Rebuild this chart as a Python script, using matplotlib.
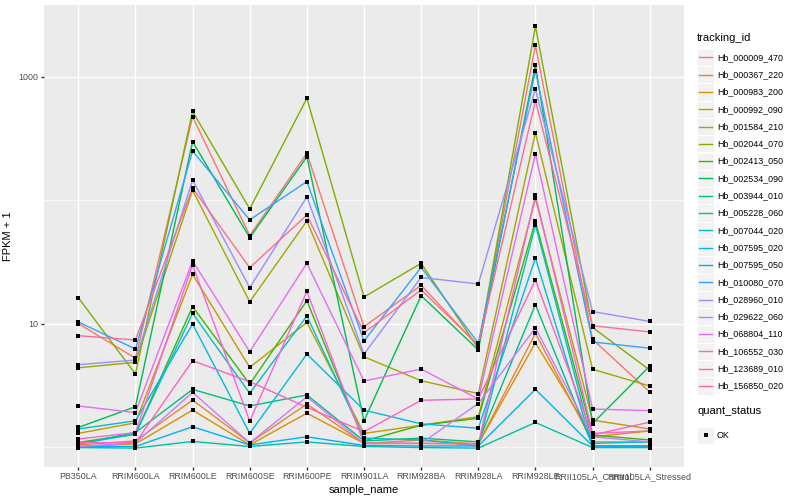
import matplotlib
matplotlib.use("Agg")
import matplotlib.pyplot as plt
from matplotlib.patches import Rectangle
from matplotlib.lines import Line2D
from matplotlib.ticker import FixedLocator, NullFormatter

# x categories
samples = ["PB350LA", "RRIM600LA", "RRIM600LE", "RRIM600SE", "RRIM600PE",
           "RRIM901LA", "RRIM928BA", "RRIM928LA", "RRIM928LE",
           "RRII105LA_Control", "RRII105LA_Stressed"]

tracking_ids = ["Hb_000009_470", "Hb_000367_220", "Hb_000983_200", "Hb_000992_090",
                "Hb_001584_210", "Hb_002044_070", "Hb_002413_050", "Hb_002534_090",
                "Hb_003944_010", "Hb_005228_060", "Hb_007044_020", "Hb_007595_020",
                "Hb_007595_050", "Hb_010080_070", "Hb_028960_010", "Hb_029622_060",
                "Hb_068804_110", "Hb_106552_030", "Hb_123689_010", "Hb_156850_020"]

# ggplot default hue palette for 20 levels
hue_colors = ["#F8766D", "#EA8331", "#D89000", "#C09B00", "#A3A500", "#7CAE00",
              "#39B600", "#00BB4E", "#00BF7D", "#00C1A3", "#00BFC4", "#00BAE0",
              "#00B0F6", "#35A2FF", "#9590FF", "#C77CFF", "#E76BF3", "#FA62DB",
              "#FF62BC", "#FF6C91"]

# FPKM + 1, one row per tracking_id, one value per sample
fpkm_plus1 = [
    [10.0, 5.23, 472, 51.5, 239, 9.42, 20.4, 6.52, 1790, 7.45, 2.79],
    [1.04, 1.12, 2.40, 1.08, 2.23, 1.07, 1.14, 1.06, 8.33, 1.10, 1.10],
    [1.01, 1.06, 1.99, 1.04, 1.88, 1.07, 1.07, 1.06, 6.99, 1.21, 1.35],
    [1.29, 1.57, 25.0, 4.42, 10.2, 1.29, 1.50, 1.76, 103, 1.65, 1.40],
    [4.38, 4.85, 120, 15.0, 67.6, 5.38, 3.44, 2.71, 351, 4.26, 3.12],
    [16.2, 3.90, 521, 84.8, 666, 16.4, 30.7, 6.30, 2550, 9.30, 4.20],
    [1.09, 1.27, 13.7, 3.23, 15.3, 1.12, 1.50, 1.71, 67.2, 1.25, 1.14],
    [1.44, 2.12, 297, 49.5, 224, 1.63, 16.8, 6.11, 1240, 1.55, 4.52],
    [1.06, 1.31, 2.93, 2.15, 2.64, 1.12, 1.18, 1.10, 14.2, 1.02, 1.02],
    [0.99, 0.98, 1.11, 1.01, 1.10, 1.01, 0.99, 0.98, 1.58, 0.99, 0.99],
    [1.06, 1.27, 12.1, 2.72, 11.5, 1.18, 1.14, 1.02, 62.8, 1.07, 1.10],
    [1.40, 1.63, 9.9, 1.29, 5.66, 1.99, 1.54, 1.42, 33.9, 1.02, 1.02],
    [1.01, 1.01, 1.46, 1.04, 1.21, 1.03, 1.02, 1.02, 2.93, 1.02, 1.02],
    [10.3, 6.22, 249, 69.1, 141, 7.22, 28.5, 6.95, 1115, 7.09, 6.31],
    [4.64, 5.06, 145, 19.5, 106, 5.66, 23.6, 20.9, 788, 12.5, 10.4],
    [1.01, 1.08, 2.77, 1.08, 2.55, 1.07, 1.07, 2.25, 9.20, 1.21, 1.10],
    [2.15, 1.90, 32.1, 5.91, 30.7, 3.42, 4.28, 2.45, 236, 2.03, 1.97],
    [1.16, 1.31, 29.8, 1.62, 18.2, 1.07, 1.07, 1.06, 109, 1.29, 1.35],
    [1.09, 1.08, 5.0, 3.38, 2.10, 1.33, 2.39, 2.45, 22.5, 1.25, 1.59],
    [7.97, 7.36, 125, 28.3, 75.6, 8.42, 18.7, 6.70, 637, 9.60, 8.55],
]

quant_status = ["OK"]

W, H = 800, 500
plt.rcParams['font.family'] = ['Liberation Sans', 'DejaVu Sans']
fig = plt.figure(figsize=(W / 100, H / 100), dpi=100)

# panel in pixel terms: left 44, right 684, top 5, bottom 467
ax = fig.add_axes([44 / W, (H - 467) / H, 640 / W, 462 / H])
ax.set_facecolor("#EBEBEB")
for s in ax.spines.values():
    s.set_visible(False)

xpos = list(range(len(samples)))
for vals, col in zip(fpkm_plus1, hue_colors):
    ax.plot(xpos, vals, color=col, lw=1.0, zorder=2, solid_capstyle='butt')
for vals in fpkm_plus1:
    ax.plot(xpos, vals, ls='none', marker='s', ms=2.8, color='black',
            markeredgewidth=0, zorder=3)

ax.set_yscale('log')
ax.set_xlim(-0.6, len(samples) - 1 + 0.6)
ax.set_ylim(0.689, 3793)
ax.set_xticks(xpos)
ax.set_xticklabels(samples)
ax.set_yticks([10, 1000])
ax.set_yticklabels(["10", "1000"])
ax.yaxis.set_minor_locator(FixedLocator([1, 100]))
ax.yaxis.set_minor_formatter(NullFormatter())
ax.xaxis.set_minor_locator(FixedLocator([]))

ax.grid(which='major', color='white', lw=1.02, zorder=0)
ax.grid(which='minor', axis='y', color='white', lw=0.5, zorder=0)
ax.set_axisbelow(True)
ax.tick_params(which='major', length=2.0, width=1.0, color='#333333',
               labelcolor='#4D4D4D', labelsize=6.4, pad=1.8)
ax.tick_params(which='minor', length=0)

ax.set_xlabel("sample_name", fontsize=8, color='black', labelpad=2.5)
ax.set_ylabel("FPKM + 1", fontsize=8, color='black', labelpad=4)

# legend, drawn ggplot style
def fx(px):
    return px / W

def fy(py):
    return 1 - py / H

fig.text(fx(697), fy(38), "tracking_id", fontsize=8, va='center', ha='left')
key = 17.3
top = 48.7
for i, (name, col) in enumerate(zip(tracking_ids, hue_colors)):
    y0 = top + i * key
    fig.add_artist(Rectangle((fx(697), fy(y0 + key)), key / W, key / H,
                             transform=fig.transFigure, facecolor='#F2F2F2',
                             edgecolor='white', lw=0.7))
    fig.add_artist(Line2D([fx(698.7), fx(712.3)], [fy(y0 + key / 2)] * 2,
                          transform=fig.transFigure, color=col, lw=1.0))
    fig.text(fx(717), fy(y0 + key / 2), name, fontsize=6.4, va='center',
             ha='left', color='black')

fig.text(fx(697), fy(411), "quant_status", fontsize=8, va='center', ha='left')
for i, st in enumerate(quant_status):
    y0 = 426.5 + i * key
    fig.add_artist(Rectangle((fx(697), fy(y0 + key)), key / W, key / H,
                             transform=fig.transFigure, facecolor='#F2F2F2',
                             edgecolor='white', lw=0.7))
    fig.add_artist(Line2D([fx(697 + key / 2)], [fy(y0 + key / 2)], marker='s',
                          ms=2.8, markeredgewidth=0, color='black',
                          transform=fig.transFigure))
    fig.text(fx(717), fy(y0 + key / 2), st, fontsize=6.4, va='center',
             ha='left', color='black')

fig.savefig("out.png", dpi=100, facecolor='white')
